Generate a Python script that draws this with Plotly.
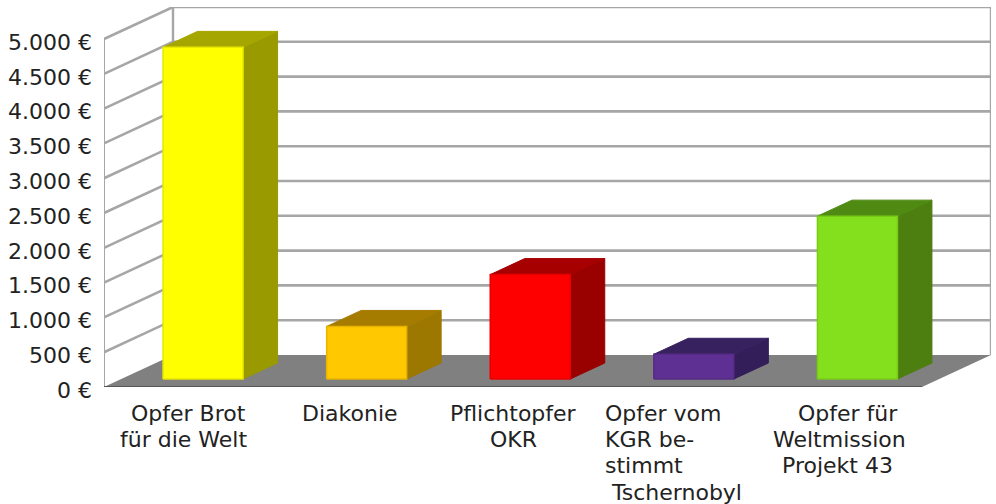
import plotly.graph_objects as go

category_lines = [
    ["Opfer Brot", "für die Welt"],
    ["Diakonie"],
    ["Pflichtopfer", "OKR"],
    ["Opfer vom", "KGR be-", "stimmt", "\u00a0Tschernobyl"],
    ["Opfer für", "Weltmission", "Projekt 43"],
]
values = [4765, 755, 1500, 355, 2340]
face_colors = ["#ffff00", "#ffc800", "#ff0000", "#5f3093", "#84e01c"]
top_colors = ["#a6a600", "#a67c00", "#a60000", "#38215f", "#4f8a12"]
side_colors = ["#999900", "#9c7800", "#990000", "#331e59", "#4d7f10"]
edge_colors = ["#e8e800", "#e8b400", "#e80000", "#562b85", "#78cc18"]
y_ticks = [0, 500, 1000, 1500, 2000, 2500, 3000, 3500, 4000, 4500, 5000]
y_labels = ["0 €", "500 €", "1.000 €", "1.500 €", "2.000 €", "2.500 €",
            "3.000 €", "3.500 €", "4.000 €", "4.500 €", "5.000 €"]

DX = 0.4218   # oblique depth, category units
DY = 460.0    # oblique depth, value units
D0, D1 = 0.25, 0.75
GAP, WIDTH = 0.2555, 0.489
N = len(category_lines)
FONT = dict(family="DejaVu Sans", size=22, color="#222222")
LINE_STEP = 26.4
# pixel nudges of the centred label lines (the original pads them with spaces)
LABEL_NUDGE = [[3, -2], [1], [0, 0], [0, 0, 0, 0], [8, -1, -3]]


def pt(x, v, d=0.0):
    return x + d * DX, v + d * DY


def poly(points, fill=None, line=None, width=1.0):
    xs = [p[0] for p in points]
    ys = [p[1] for p in points]
    return go.Scatter(
        x=xs, y=ys, mode="lines", hoverinfo="skip", showlegend=False,
        fill="toself" if fill else None, fillcolor=fill,
        line=dict(color=line or "rgba(0,0,0,0)", width=width),
    )


fig = go.Figure()

# floor
fig.add_trace(poly([pt(0, 0), pt(N, 0), pt(N, 0, 1), pt(0, 0, 1), pt(0, 0)], fill="#808080"))

# gridlines across left and back wall
for v in y_ticks[1:]:
    fig.add_trace(poly([pt(0, v), pt(0, v, 1), pt(N, v, 1)], line="#a6a6a6", width=2.6))

# wall edges
fig.add_trace(poly([pt(0, 0), pt(0, 5000)], line="#a6a6a6", width=2))
fig.add_trace(poly([pt(0, 0, 1), pt(0, 5000, 1)], line="#a6a6a6", width=2.4))
fig.add_trace(poly([pt(N, 0, 1), pt(N, 5000, 1)], line="#a6a6a6", width=2.4))
fig.add_trace(poly([pt(0, 0), pt(N, 0)], line="#555555", width=2))

# bars
for i, v in enumerate(values):
    l = i + GAP
    r = l + WIDTH
    fig.add_trace(poly([pt(r, 0, D0), pt(r, 0, D1), pt(r, v, D1), pt(r, v, D0), pt(r, 0, D0)],
                       fill=side_colors[i], line=side_colors[i]))
    fig.add_trace(poly([pt(l, v, D0), pt(r, v, D0), pt(r, v, D1), pt(l, v, D1), pt(l, v, D0)],
                       fill=top_colors[i], line=top_colors[i]))
    fig.add_trace(poly([pt(l, 0, D0), pt(r, 0, D0), pt(r, v, D0), pt(l, v, D0), pt(l, 0, D0)],
                       fill=face_colors[i], line=edge_colors[i], width=1.5))

# category labels, one annotation per line
for i, lines in enumerate(category_lines):
    for k, text in enumerate(lines):
        if i == 3:
            anchor = dict(x=i + 0.5, xshift=-74, xanchor="left")
        else:
            anchor = dict(x=i + 0.5, xshift=LABEL_NUDGE[i][k], xanchor="center")
        fig.add_annotation(
            y=0, xref="x", yref="y", yanchor="middle", yshift=-(26 + k * LINE_STEP),
            text=text, showarrow=False, font=FONT, **anchor,
        )

fig.update_xaxes(range=[0, N + DX], visible=False, fixedrange=True)
fig.update_yaxes(
    range=[0, 5000 + DY], tickvals=y_ticks, ticktext=y_labels, showgrid=False,
    zeroline=False, showline=False, ticks="", ticklabelstandoff=11, ticklabelshift=3,
    tickfont=FONT, fixedrange=True,
)
fig.update_layout(
    width=996, height=504, margin=dict(l=104, r=5, t=7, b=117, autoexpand=False),
    plot_bgcolor="white", paper_bgcolor="white",
)
fig.write_html("out.html", config=dict(displayModeBar=False),
               post_script="document.body.style.margin='0';")
